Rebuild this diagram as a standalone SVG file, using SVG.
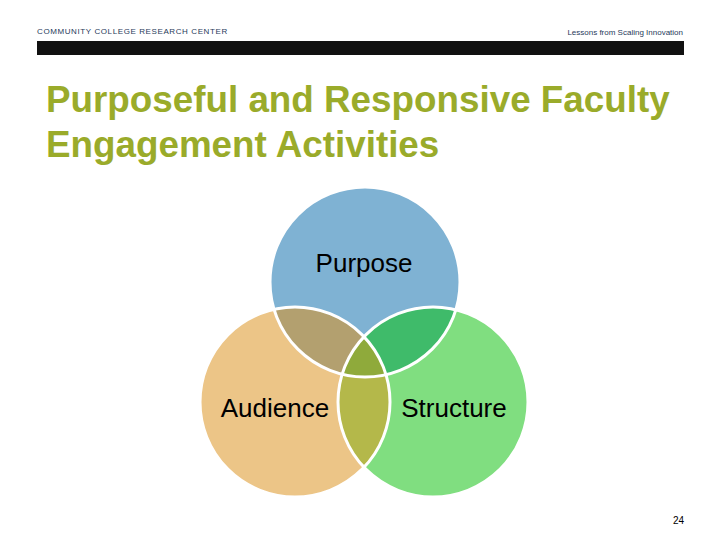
<svg xmlns="http://www.w3.org/2000/svg" width="720" height="540" viewBox="0 0 720 540">
<style>
.h{font-family:"Liberation Sans",Arial,sans-serif;font-size:8px;fill:#1f3a5a;letter-spacing:0.6px}
.t{font-family:"Liberation Sans",Arial,sans-serif;font-size:36.8px;font-weight:bold;fill:#9aab2a}
.l{font-family:"Liberation Sans",Arial,sans-serif;font-size:26px;fill:#000}
.ring{fill:none;stroke:#fff;stroke-width:3}
</style>
<defs>
<clipPath id="cP"><circle cx="365" cy="282" r="95"/></clipPath>
<clipPath id="cA"><circle cx="295" cy="402" r="95"/></clipPath>
<clipPath id="cS"><circle cx="433" cy="402" r="95"/></clipPath>
</defs>
<rect width="720" height="540" fill="#fff"/>
<text class="h" x="37" y="34">COMMUNITY COLLEGE RESEARCH CENTER</text>
<text class="h" x="683" y="35" text-anchor="end" style="letter-spacing:0">Lessons from Scaling Innovation</text>
<rect x="37" y="41" width="647" height="14" fill="#111"/>
<text class="t" x="46" y="112">Purposeful and Responsive Faculty</text>
<text class="t" x="46" y="157">Engagement Activities</text>
<g id="purpose"><circle cx="365" cy="282" r="95" fill="#7fb2d3"/></g>
<g id="audience"><circle cx="295" cy="402" r="95" fill="#ecc587"/></g>
<g id="structure"><circle cx="433" cy="402" r="95" fill="#80de80"/></g>
<g id="overlaps">
<circle cx="295" cy="402" r="95" fill="#b3a06f" clip-path="url(#cP)"/>
<circle cx="433" cy="402" r="95" fill="#3fbb6a" clip-path="url(#cP)"/>
<circle cx="433" cy="402" r="95" fill="#b4b84a" clip-path="url(#cA)"/>
<g clip-path="url(#cP)"><circle cx="433" cy="402" r="95" fill="#8faa3b" clip-path="url(#cA)"/></g>
</g>
<g id="rings">
<circle class="ring" cx="365" cy="282" r="95"/>
<circle class="ring" cx="295" cy="402" r="95"/>
<circle class="ring" cx="433" cy="402" r="95"/>
</g>
<text class="l" x="364" y="272" text-anchor="middle">Purpose</text>
<text class="l" x="275" y="417" text-anchor="middle">Audience</text>
<text class="l" x="454" y="417" text-anchor="middle">Structure</text>
<text x="684" y="524" text-anchor="end" style="font-family:'Liberation Sans',Arial,sans-serif;font-size:10px;fill:#000">24</text>
</svg>
